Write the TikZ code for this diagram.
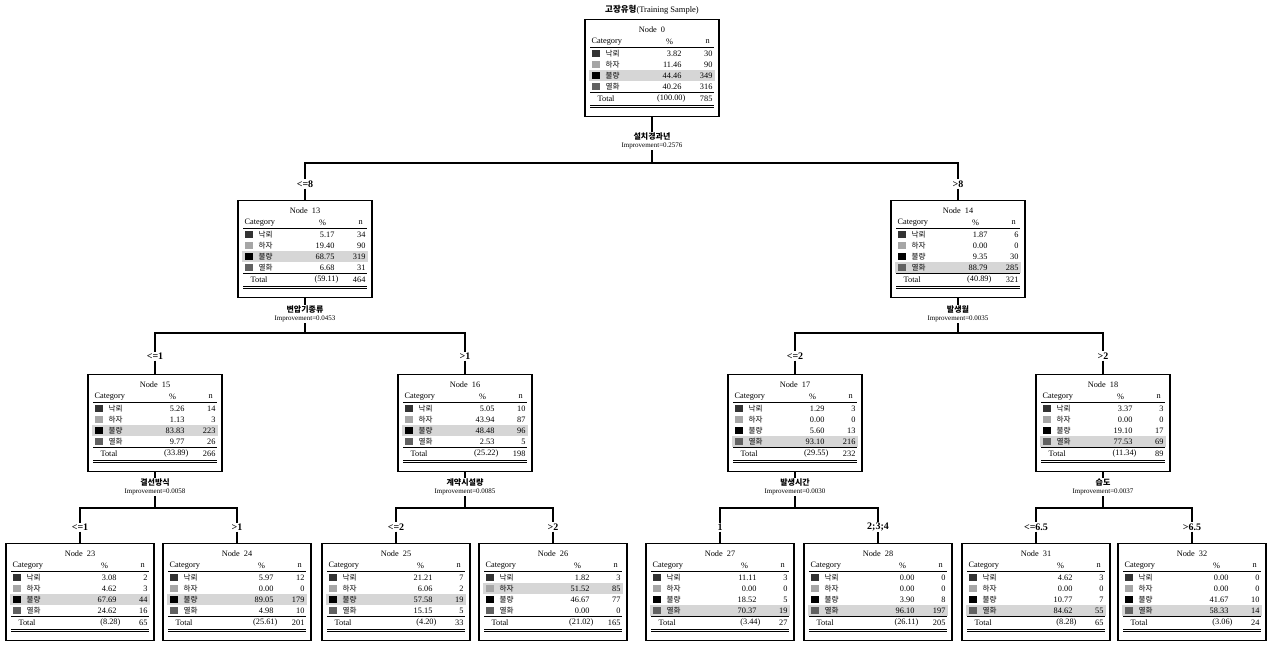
\documentclass[tikz,border=0pt]{standalone}
\usepackage{fontspec}
\setmainfont{Liberation Serif}
\newfontfamily\kor{Noto Sans CJK KR}
\usetikzlibrary{calc}

\colorlet{sw1}{black!80}
\colorlet{sw2}{black!35}
\colorlet{sw3}{black}
\colorlet{sw4}{black!62}

\newcommand{\catname}[1]{\ifcase#1\or 낙뢰\or 하자\or 불량\or 열화\fi}

% one tree node: style, name, position, node no., shaded row, rows %/n, total %, total n
\newcommand{\cattab}[8]{%
  \node[#1] (#2) at (#3) {};
  \fill[hlrow] ($(#2.north west)+(5,{18.5+11*#5})$) rectangle ($(#2.north east)+(-5,{29.5+11*#5})$);
  \node[txt] (#2-no) at ($(#2.north)+(0,11)$) {Node\ \ #4};
  \node[txt, anchor=west] (#2-hc) at ($(#2.north west)+(7,23)$) {Category};
  \node[txt] (#2-hp) at ($(#2.north east)+(-50,23)$) {\%};
  \node[txt] (#2-hn) at ($(#2.north east)+(-12,23)$) {n};
  \draw[rule] ($(#2.north west)+(6,28.5)$) -- ($(#2.north east)+(-6,28.5)$);
  \foreach \pc/\nc [count=\i] in {#6} {
    \fill[fill=sw\i] ($(#2.north west)+(8,{20.5+11*\i})$) rectangle ++(8,7);
    \node[cat, anchor=west] (#2-c\i) at ($(#2.north west)+(21,{24+11*\i})$) {\catname{\i}};
    \node[txt, anchor=east] (#2-p\i) at ($(#2.north east)+(-38,{24+11*\i})$) {\pc};
    \node[txt, anchor=east] (#2-n\i) at ($(#2.north east)+(-7,{24+11*\i})$) {\nc};
  }
  \draw[rule] ($(#2.north west)+(6,73.5)$) -- ($(#2.north east)+(-6,73.5)$);
  \node[txt, anchor=west] (#2-tt) at ($(#2.north west)+(13,80)$) {Total};
  \node[txt, anchor=east] (#2-tp) at ($(#2.north east)+(-34,80)$) {#7};
  \node[txt, anchor=east] (#2-tn) at ($(#2.north east)+(-7,80)$) {#8};
  \draw[rule] ($(#2.north west)+(6,86)$) -- ($(#2.north east)+(-6,86)$);
  \draw[rule] ($(#2.north west)+(6,88)$) -- ($(#2.north east)+(-6,88)$);
}

\begin{document}
\begin{tikzpicture}[x=1pt, y=-1pt,
  tbox/.style={draw, line width=1.2pt, fill=white, minimum width=134pt, minimum height=97pt, inner sep=0pt},
  leafbox/.style={tbox, minimum width=148pt},
  txt/.style={font=\fontsize{8.3}{9}\selectfont, inner sep=0pt},
  cat/.style={font=\kor\fontsize{7.6}{8}\selectfont, inner sep=0pt},
  rule/.style={line width=0.6pt},
  hlrow/.style={fill=black!16},
  link/.style={line width=1.4pt},
  brlabel/.style={font=\bfseries\fontsize{10}{11}\selectfont, inner sep=1pt},
  split/.style={font=\fontsize{7}{8}\selectfont, align=center, inner sep=1pt},
  title/.style={font=\fontsize{8.5}{9}\selectfont, inner sep=1pt}
]
  \useasboundingbox (0,0) rectangle (1271,650);

  % root
  \node[title] (t0) at (652,10) {{\kor\bfseries 고장유형}(Training Sample)};
  \cattab{tbox}{n0}{652,68}{0}{3}{3.82/30, 11.46/90, 44.46/349, 40.26/316}{(100.00)}{785}
  \node[split] (s0) at (652,141) {{\kor\bfseries\fontsize{8}{8.5}\selectfont 설치경과년}\\Improvement=0.2576};
  \coordinate (j0) at (652,163);

  % level 1
  \node[brlabel] (b13) at (305,184) {<=8};
  \node[brlabel] (b14) at (958,184) {>8};
  \cattab{tbox}{n13}{305,249}{13}{3}{5.17/34, 19.40/90, 68.75/319, 6.68/31}{(59.11)}{464}
  \cattab{tbox}{n14}{958,249}{14}{4}{1.87/6, 0.00/0, 9.35/30, 88.79/285}{(40.89)}{321}
  \node[split] (s13) at (305,314) {{\kor\bfseries\fontsize{8}{8.5}\selectfont 변압기종류}\\Improvement=0.0453};
  \node[split] (s14) at (958,314) {{\kor\bfseries\fontsize{8}{8.5}\selectfont 발생월}\\Improvement=0.0035};
  \coordinate (j13) at (305,333);
  \coordinate (j14) at (958,333);

  % level 2
  \node[brlabel] (b15) at (155,356) {<=1};
  \node[brlabel] (b16) at (465,356) {>1};
  \node[brlabel] (b17) at (795,356) {<=2};
  \node[brlabel] (b18) at (1103,356) {>2};
  \cattab{tbox}{n15}{155,423}{15}{3}{5.26/14, 1.13/3, 83.83/223, 9.77/26}{(33.89)}{266}
  \cattab{tbox}{n16}{465,423}{16}{3}{5.05/10, 43.94/87, 48.48/96, 2.53/5}{(25.22)}{198}
  \cattab{tbox}{n17}{795,423}{17}{4}{1.29/3, 0.00/0, 5.60/13, 93.10/216}{(29.55)}{232}
  \cattab{tbox}{n18}{1103,423}{18}{4}{3.37/3, 0.00/0, 19.10/17, 77.53/69}{(11.34)}{89}
  \node[split] (s15) at (155,487) {{\kor\bfseries\fontsize{8}{8.5}\selectfont 결선방식}\\Improvement=0.0058};
  \node[split] (s16) at (465,487) {{\kor\bfseries\fontsize{8}{8.5}\selectfont 계약시설량}\\Improvement=0.0085};
  \node[split] (s17) at (795,487) {{\kor\bfseries\fontsize{8}{8.5}\selectfont 발생시간}\\Improvement=0.0030};
  \node[split] (s18) at (1103,487) {{\kor\bfseries\fontsize{8}{8.5}\selectfont 습도}\\Improvement=0.0037};
  \coordinate (j15) at (155,508);
  \coordinate (j16) at (465,508);
  \coordinate (j17) at (795,508);
  \coordinate (j18) at (1103,508);

  % leaves
  \node[brlabel] (b23) at (80,527) {<=1};
  \node[brlabel] (b24) at (237,527) {>1};
  \node[brlabel] (b25) at (396,527) {<=2};
  \node[brlabel] (b26) at (553,527) {>2};
  \node[brlabel] (b27) at (720,527) {1};
  \node[brlabel] (b28) at (878,527) {2;3;4};
  \node[brlabel] (b31) at (1036,527) {<=6.5};
  \node[brlabel] (b32) at (1192,527) {>6.5};
  \cattab{leafbox}{n23}{80,592}{23}{3}{3.08/2, 4.62/3, 67.69/44, 24.62/16}{(8.28)}{65}
  \cattab{leafbox}{n24}{237,592}{24}{3}{5.97/12, 0.00/0, 89.05/179, 4.98/10}{(25.61)}{201}
  \cattab{leafbox}{n25}{396,592}{25}{3}{21.21/7, 6.06/2, 57.58/19, 15.15/5}{(4.20)}{33}
  \cattab{leafbox}{n26}{553,592}{26}{2}{1.82/3, 51.52/85, 46.67/77, 0.00/0}{(21.02)}{165}
  \cattab{leafbox}{n27}{720,592}{27}{4}{11.11/3, 0.00/0, 18.52/5, 70.37/19}{(3.44)}{27}
  \cattab{leafbox}{n28}{878,592}{28}{4}{0.00/0, 0.00/0, 3.90/8, 96.10/197}{(26.11)}{205}
  \cattab{leafbox}{n31}{1036,592}{31}{4}{4.62/3, 0.00/0, 10.77/7, 84.62/55}{(8.28)}{65}
  \cattab{leafbox}{n32}{1192,592}{32}{4}{0.00/0, 0.00/0, 41.67/10, 58.33/14}{(3.06)}{24}

  % connectors
  \draw[link] (n0) -- (s0);
  \draw[link] (s0) -- (j0);
  \draw[link] (j0) -| (b13);
  \draw[link] (j0) -| (b14);
  \draw[link] (b13) -- (n13);
  \draw[link] (b14) -- (n14);
  \draw[link] (n13) -- (s13);
  \draw[link] (n14) -- (s14);
  \draw[link] (s13) -- (j13);
  \draw[link] (s14) -- (j14);
  \draw[link] (j13) -| (b15);
  \draw[link] (j13) -| (b16);
  \draw[link] (j14) -| (b17);
  \draw[link] (j14) -| (b18);
  \draw[link] (b15) -- (n15);
  \draw[link] (b16) -- (n16);
  \draw[link] (b17) -- (n17);
  \draw[link] (b18) -- (n18);
  \draw[link] (n15) -- (s15);
  \draw[link] (n16) -- (s16);
  \draw[link] (n17) -- (s17);
  \draw[link] (n18) -- (s18);
  \draw[link] (s15) -- (j15);
  \draw[link] (s16) -- (j16);
  \draw[link] (s17) -- (j17);
  \draw[link] (s18) -- (j18);
  \draw[link] (j15) -| (b23);
  \draw[link] (j15) -| (b24);
  \draw[link] (j16) -| (b25);
  \draw[link] (j16) -| (b26);
  \draw[link] (j17) -| (b27);
  \draw[link] (j17) -| (b28);
  \draw[link] (j18) -| (b31);
  \draw[link] (j18) -| (b32);
  \draw[link] (b23) -- (n23);
  \draw[link] (b24) -- (n24);
  \draw[link] (b25) -- (n25);
  \draw[link] (b26) -- (n26);
  \draw[link] (b27) -- (n27);
  \draw[link] (b28) -- (n28);
  \draw[link] (b31) -- (n31);
  \draw[link] (b32) -- (n32);
\end{tikzpicture}
\end{document}
